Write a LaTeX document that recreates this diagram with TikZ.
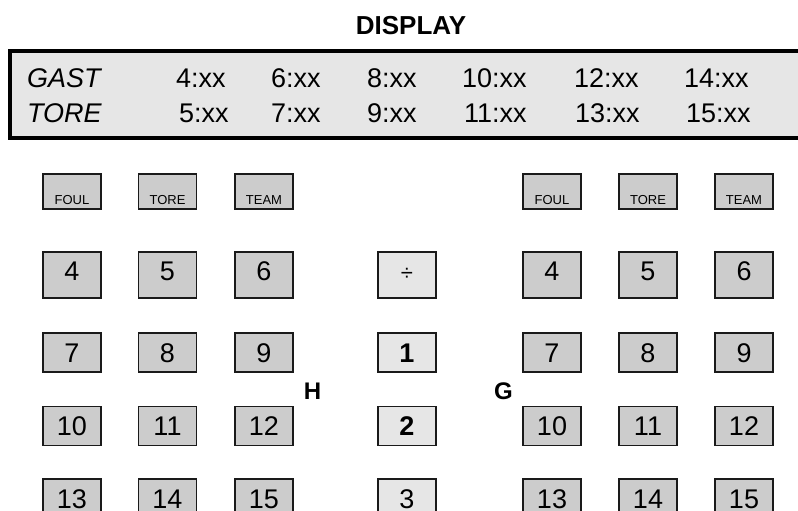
\documentclass[tikz,border=0pt]{standalone}
\usepackage{fontspec}
\setmainfont{Liberation Sans}
\definecolor{keygray}{HTML}{CCCCCC}
\definecolor{lightgray}{HTML}{E6E6E6}
\definecolor{edge}{HTML}{1A1A1A}
\begin{document}
\begin{tikzpicture}[x=1pt,y=-1pt,
  key/.style={draw=edge, line width=1.6pt, fill=keygray, minimum width=58pt, minimum height=39pt,
    inner sep=0pt, text height=19pt, text depth=0pt, font=\fontsize{27}{32}\selectfont},
  tallkey/.style={key, minimum height=46pt, text depth=9pt},
  midkey/.style={key, fill=lightgray},
  smallkey/.style={key, minimum height=35pt, text height=25pt, text depth=0pt, font=\fontsize{13}{15}\selectfont},
  disp/.style={anchor=base west, inner sep=0pt, font=\fontsize{27}{32}\selectfont},
  dispit/.style={disp, font=\fontsize{27}{32}\selectfont\itshape},
  side/.style={anchor=base, inner sep=0pt, font=\fontsize{24}{28}\selectfont\bfseries}
]
\clip (0,0) rectangle (798,511);
\fill[white] (0,0) rectangle (798,511);

% title
\node[anchor=base, inner sep=0pt, font=\fontsize{26}{30}\selectfont\bfseries] (title) at (411,35) {DISPLAY};

% display panel
\draw[fill=lightgray, draw=black, line width=3.5pt] (10,51) rectangle (812,138);
\coordinate (panel) at (10,51);
\node[dispit] (gast) at (27,88) {GAST};
\node[dispit] (tore) at (27,122) {TORE};
\foreach \t/\x/\n in {4:xx/176/a4, 6:xx/271/a6, 8:xx/367/a8, 10:xx/462/a10, 12:xx/574/a12, 14:xx/684/a14}
  \node[disp] (\n) at (\x,88) {\t};
\foreach \t/\x/\n in {5:xx/179/a5, 7:xx/271/a7, 9:xx/367/a9, 11:xx/464/a11, 13:xx/575/a13, 15:xx/686/a15}
  \node[disp] (\n) at (\x,122) {\t};

% small keys
\foreach \t/\x/\n in {FOUL/72/lf, TORE/167.5/lt, TEAM/264/lm, FOUL/552/rf, TORE/648/rt, TEAM/744/rm}
  \node[smallkey] (\n) at (\x,191.5) {\t};

% row 1
\foreach \t/\x/\n in {4/72/l4, 5/167.5/l5, 6/264/l6, 4/552/r4, 5/648/r5, 6/744/r6}
  \node[tallkey] (\n) at (\x,275) {\t};
\node[tallkey, fill=lightgray, font=\fontsize{22}{26}\selectfont] (div) at (407,275) {÷};

% row 2
\foreach \t/\x/\n in {7/72/l7, 8/167.5/l8, 9/264/l9, 7/552/r7, 8/648/r8, 9/744/r9}
  \node[key] (\n) at (\x,352.5) {\t};
\node[midkey, font=\fontsize{27}{32}\selectfont\bfseries] (m1) at (407,352.5) {1};

% row 3
\foreach \t/\x/\n in {10/72/l10, 11/167.5/l11, 12/264/l12, 10/552/r10, 11/648/r11, 12/744/r12}
  \node[key] (\n) at (\x,426) {\t};
\node[midkey, font=\fontsize{27}{32}\selectfont\bfseries] (m2) at (407,426) {2};

% row 4
\foreach \t/\x/\n in {13/72/l13, 14/167.5/l14, 15/264/l15, 13/552/r13, 14/648/r14, 15/744/r15}
  \node[key] (\n) at (\x,498.5) {\t};
\node[midkey] (m3) at (407,498.5) {3};

% side letters
\node[side] (hlab) at (312.5,399) {H};
\node[side] (glab) at (503.5,399) {G};
\end{tikzpicture}
\end{document}
